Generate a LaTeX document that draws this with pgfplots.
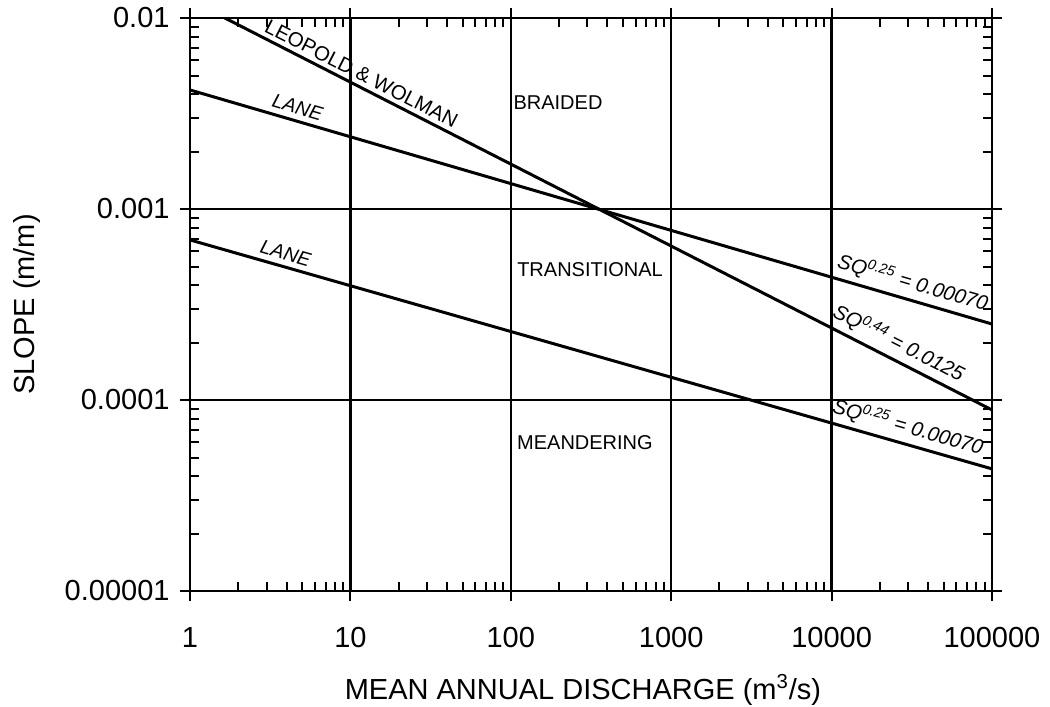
\documentclass[border=0pt]{standalone}
\usepackage{fontspec}
\setmainfont{Liberation Sans}
\usepackage{pgfplots}
\pgfplotsset{compat=1.18}

\begin{document}
\begin{tikzpicture}
\useasboundingbox (-95pt,-58pt) rectangle (430pt,295.5pt);
\begin{axis}[
    xmode=log, ymode=log,
    scale only axis,
    width=401pt, height=286.5pt,
    xmin=1, xmax=100000,
    ymin=0.00001, ymax=0.01,
    xtick={1,10,100,1000,10000,100000},
    xticklabels={1,10,100,1000,10000,100000},
    ytick={0.00001,0.0001,0.001,0.01},
    yticklabels={0.00001,0.0001,0.001,0.01},
    grid=major,
    major grid style={black, line width=1.2pt},
    axis line style={line width=1.3pt},
    tick align=inside,
    major tick length=0pt,
    minor tick length=4.5pt,
    every tick/.style={black, line width=1pt},
    extra x ticks={1,10,100,1000,10000,100000},
    extra x tick labels={},
    extra x tick style={grid=none, tick align=outside, major tick length=5pt},
    extra y ticks={0.00001,0.0001,0.001,0.01},
    extra y tick labels={},
    extra y tick style={grid=none, tick align=outside, major tick length=5pt},
    ticklabel style={font=\fontsize{14.5}{16}\selectfont},
    xticklabel style={anchor=north, yshift=-14.7pt},
    yticklabel style={anchor=east, xshift=-6.7pt},
    xlabel={MEAN ANNUAL DISCHARGE (m\textsuperscript{3}/s)},
    ylabel={SLOPE (m/m)},
    label style={font=\fontsize{14.5}{16}\selectfont},
    xlabel style={at={(axis description cs:0.49,-0.1728)}, anchor=center},
    ylabel style={at={(axis description cs:-0.2032,0.5)}, anchor=center},
]
% Leopold & Wolman, SQ^0.44 = 0.0125
\addplot[black, line width=1.5pt] coordinates {(1.65,0.01) (100000,0.0000887)};
% Lane, upper threshold
\addplot[black, line width=1.5pt] coordinates {(1,0.0042) (100000,0.00025)};
% Lane, lower threshold
\addplot[black, line width=1.5pt] coordinates {(1,0.000689) (100000,0.0000436)};

\node[font=\fontsize{10.2}{12}\selectfont, rotate=-27.06, anchor=south, inner sep=2.5pt]
    at (axis cs:10.8,0.00447) {LEOPOLD \& WOLMAN};
\node[font=\fontsize{9.8}{11}\itshape, rotate=-16.26, anchor=south, inner sep=3pt]
    at (axis cs:4.45,0.00292) {LANE};
\node[font=\fontsize{9.8}{11}\itshape, rotate=-15.95, anchor=south, inner sep=3pt]
    at (axis cs:3.75,0.000502) {LANE};

\node[font=\fontsize{10}{12}\selectfont] at (axis cs:197,0.00359) {BRAIDED};
\node[font=\fontsize{10}{12}\selectfont] at (axis cs:312,0.00048) {TRANSITIONAL};
\node[font=\fontsize{10}{12}\selectfont] at (axis cs:290,0.00006) {MEANDERING};

\node[font=\fontsize{10.2}{12}\itshape, rotate=-16.26, anchor=south, inner sep=3pt]
    at (axis cs:30000,0.000337) {SQ\textsuperscript{0.25} = 0.00070};
\node[font=\fontsize{10.2}{12}\itshape, rotate=-27.06, anchor=south, inner sep=3pt]
    at (axis cs:23500,0.000165) {SQ\textsuperscript{0.44} = 0.0125};
\node[font=\fontsize{10.2}{12}\itshape, rotate=-15.95, anchor=south, inner sep=3pt]
    at (axis cs:28000,0.0000592) {SQ\textsuperscript{0.25} = 0.00070};
\end{axis}
\end{tikzpicture}
\end{document}
